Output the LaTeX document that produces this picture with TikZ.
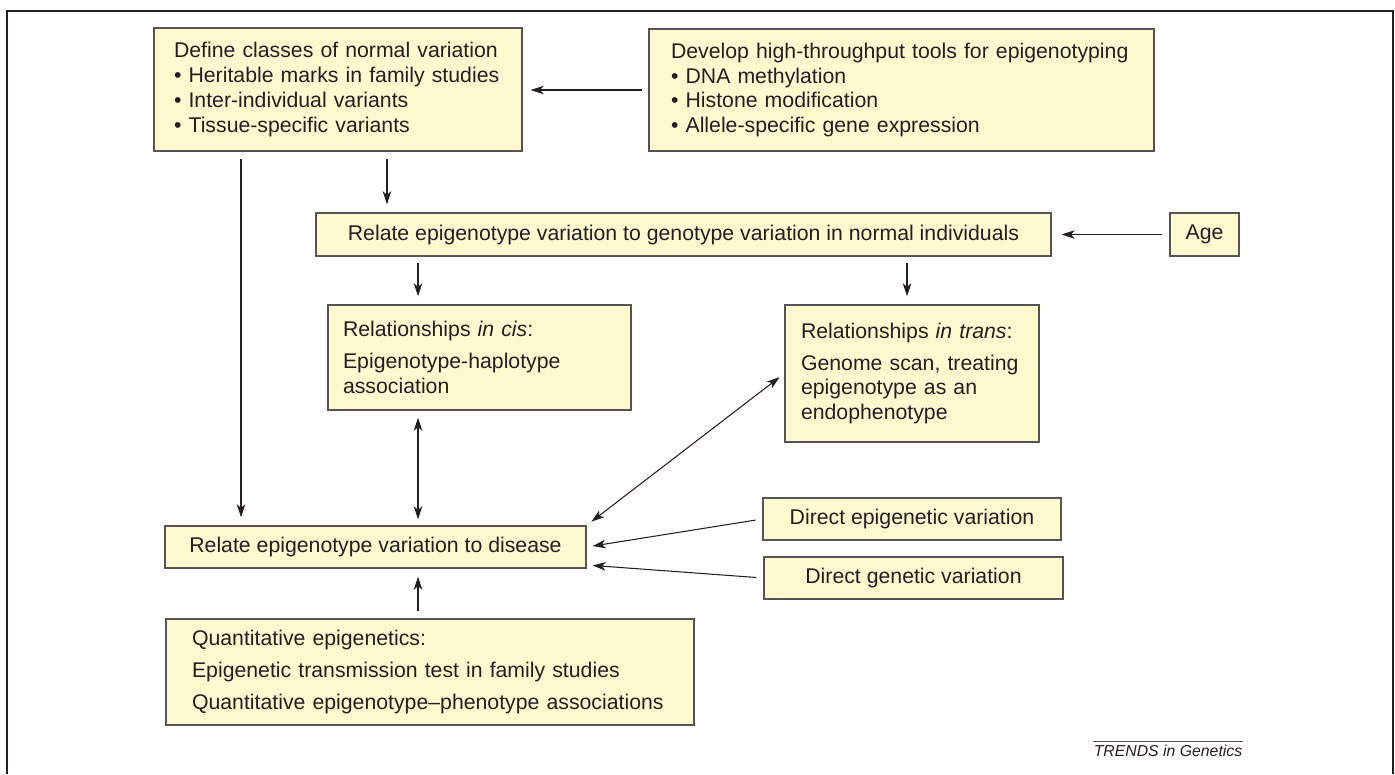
\documentclass[tikz,border=0pt]{standalone}
\usepackage{fontspec}
\setmainfont{Liberation Sans}
\usetikzlibrary{arrows.meta}
\definecolor{boxfill}{RGB}{255,249,208}
\definecolor{boxline}{RGB}{85,85,85}
\definecolor{ink}{RGB}{35,31,32}

\begin{document}
\begin{tikzpicture}[x=0.02cm, y=-0.02cm,
    >={Stealth[length=0.26cm,width=0.17cm,inset=0.07cm]},
    every node/.style={font=\fontsize{12.1pt}{14.2pt}\selectfont, text=ink},
    box/.style={draw=boxline, fill=boxfill, line width=0.8pt, inner ysep=0pt},
    lbox/.style={box, align=left},
    cbox/.style={box, align=center},
    arr/.style={->, draw=ink, line width=0.6pt, shorten <=0.14cm, shorten >=0.16cm},
    dbl/.style={arr, <->}]
  \useasboundingbox (0,0) rectangle (1395,774);
  \draw[ink, line width=0.6pt] (7,774) -- (7,11) -- (1393,11) -- (1393,774);

  \node (def) at (338,89.5) [lbox, text width=6.56cm, inner xsep=0.4cm, minimum height=2.46cm]
    {Define classes of normal variation\\ • Heritable marks in family studies\\
     • Inter-individual variants\\ • Tissue-specific variants};
  \node (dev) at (901.5,90) [lbox, text width=9.22cm, inner xsep=0.44cm, minimum height=2.44cm]
    {Develop high-throughput tools for epigenotyping\\ • DNA methylation\\
     • Histone modification\\ • Allele-specific gene expression};
  \node (geno) at (683.5,234.5) [cbox, minimum width=14.7cm, minimum height=0.86cm]
    {Relate epigenotype variation to genotype variation in normal individuals};
  \node (age) at (1204.5,234.5) [cbox, minimum width=1.38cm, minimum height=0.86cm] {Age};
  \node (cis) at (479.5,357.5) [lbox, text width=5.46cm, inner xsep=0.3cm, minimum height=2.1cm]
    {Relationships \textit{in cis}:\\[0.14cm] Epigenotype-haplotype\\ association};
  \node (trans) at (912,373.5) [lbox, text width=4.44cm, inner xsep=0.32cm, minimum height=2.74cm]
    {Relationships \textit{in trans}:\\[0.14cm] Genome scan, treating\\ epigenotype as an\\ endophenotype};
  \node (dis) at (375.5,547) [cbox, minimum width=8.42cm, minimum height=0.84cm]
    {Relate epigenotype variation to disease};
  \node (depi) at (912,519) [cbox, minimum width=5.96cm, minimum height=0.84cm]
    {Direct epigenetic variation};
  \node (dgen) at (913.5,578) [cbox, minimum width=5.98cm, minimum height=0.84cm]
    {Direct genetic variation};
  \node (quant) at (430,672) [lbox, text width=9.52cm, inner xsep=0.52cm, minimum height=2.12cm]
    {Quantitative epigenetics:\\[0.14cm] Epigenetic transmission test in family studies\\[0.14cm]
     Quantitative epigenotype–phenotype associations};

  \draw[arr, shorten <=0.12cm] (dev.west) -- (dev.west -| def.east);
  \draw[arr] ([xshift=-1.94cm]def.south) -- ([xshift=-1.94cm]def.south |- dis.north);
  \draw[arr] ([xshift=0.98cm]def.south) -- ([xshift=0.98cm]def.south |- geno.north);
  \draw[arr, shorten >=0.2cm] (age.west) -- (geno.east);
  \draw[arr, shorten <=0.12cm] ([xshift=-1.23cm]cis.north |- geno.south) -- ([xshift=-1.23cm]cis.north);
  \draw[arr, shorten <=0.12cm] ([xshift=-0.1cm]trans.north |- geno.south) -- ([xshift=-0.1cm]trans.north);
  \draw[dbl, shorten >=0.12cm] ([xshift=-1.23cm]cis.south) -- ([xshift=-1.23cm]cis.south |- dis.north);
  \draw[dbl, shorten <=0.12cm, shorten >=0.12cm] (trans.west) -- (dis.north east);
  \draw[arr, shorten >=0.12cm] (depi.west) -- (dis.east);
  \draw[arr, shorten >=0.12cm] (dgen.west) -- ([yshift=-0.36cm]dis.east);
  \draw[arr] ([xshift=-0.24cm]quant.north) -- ([xshift=-0.24cm]quant.north |- dis.south);

  \node (logo) at (1168,741) [anchor=north, inner xsep=0pt, inner ysep=0.07cm,
    font=\fontsize{9pt}{10pt}\selectfont\itshape] {TRENDS in Genetics};
  \draw[boxline, line width=0.5pt] (logo.north west) -- (logo.north east);
\end{tikzpicture}
\end{document}
